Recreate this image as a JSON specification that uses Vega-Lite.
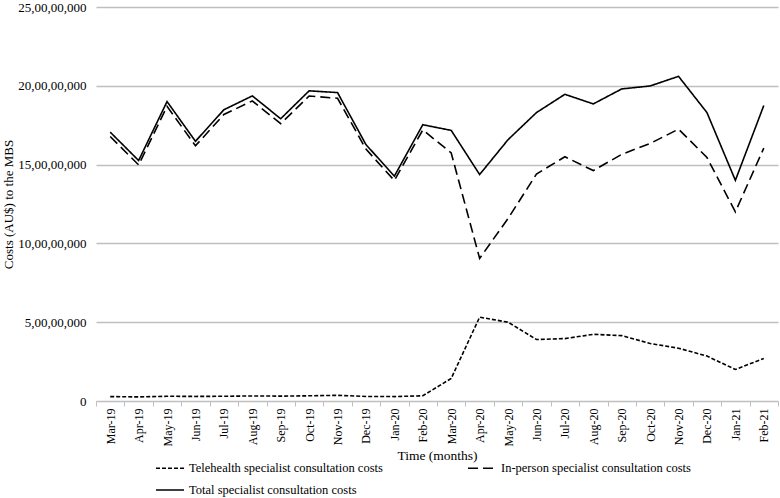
{
  "$schema": "https://vega.github.io/schema/vega-lite/v6.json",
  "width": 682,
  "height": 394,
  "autosize": {"type": "none"},
  "padding": {"left": 96, "top": 7, "right": 2, "bottom": 97},
  "background": "white",
  "config": {
    "font": "Liberation Serif",
    "view": {"stroke": null},
    "axis": {"labelColor": "black", "titleColor": "black", "titleFontWeight": "normal"}
  },
  "data": {
    "values": [
      {"month": "Mar-19", "series": "Telehealth specialist consultation costs", "cost": 2800000},
      {"month": "Apr-19", "series": "Telehealth specialist consultation costs", "cost": 2600000},
      {"month": "May-19", "series": "Telehealth specialist consultation costs", "cost": 3000000},
      {"month": "Jun-19", "series": "Telehealth specialist consultation costs", "cost": 2900000},
      {"month": "Jul-19", "series": "Telehealth specialist consultation costs", "cost": 3000000},
      {"month": "Aug-19", "series": "Telehealth specialist consultation costs", "cost": 3200000},
      {"month": "Sep-19", "series": "Telehealth specialist consultation costs", "cost": 3100000},
      {"month": "Oct-19", "series": "Telehealth specialist consultation costs", "cost": 3300000},
      {"month": "Nov-19", "series": "Telehealth specialist consultation costs", "cost": 3600000},
      {"month": "Dec-19", "series": "Telehealth specialist consultation costs", "cost": 2900000},
      {"month": "Jan-20", "series": "Telehealth specialist consultation costs", "cost": 2800000},
      {"month": "Feb-20", "series": "Telehealth specialist consultation costs", "cost": 3300000},
      {"month": "Mar-20", "series": "Telehealth specialist consultation costs", "cost": 14300000},
      {"month": "Apr-20", "series": "Telehealth specialist consultation costs", "cost": 53200000},
      {"month": "May-20", "series": "Telehealth specialist consultation costs", "cost": 50000000},
      {"month": "Jun-20", "series": "Telehealth specialist consultation costs", "cost": 39000000},
      {"month": "Jul-20", "series": "Telehealth specialist consultation costs", "cost": 39600000},
      {"month": "Aug-20", "series": "Telehealth specialist consultation costs", "cost": 42300000},
      {"month": "Sep-20", "series": "Telehealth specialist consultation costs", "cost": 41500000},
      {"month": "Oct-20", "series": "Telehealth specialist consultation costs", "cost": 36500000},
      {"month": "Nov-20", "series": "Telehealth specialist consultation costs", "cost": 33500000},
      {"month": "Dec-20", "series": "Telehealth specialist consultation costs", "cost": 28500000},
      {"month": "Jan-21", "series": "Telehealth specialist consultation costs", "cost": 20000000},
      {"month": "Feb-21", "series": "Telehealth specialist consultation costs", "cost": 27000000},
      {"month": "Mar-19", "series": "In-person specialist consultation costs", "cost": 167800000},
      {"month": "Apr-19", "series": "In-person specialist consultation costs", "cost": 149800000},
      {"month": "May-19", "series": "In-person specialist consultation costs", "cost": 187000000},
      {"month": "Jun-19", "series": "In-person specialist consultation costs", "cost": 161900000},
      {"month": "Jul-19", "series": "In-person specialist consultation costs", "cost": 181800000},
      {"month": "Aug-19", "series": "In-person specialist consultation costs", "cost": 190400000},
      {"month": "Sep-19", "series": "In-person specialist consultation costs", "cost": 176000000},
      {"month": "Oct-19", "series": "In-person specialist consultation costs", "cost": 193500000},
      {"month": "Nov-19", "series": "In-person specialist consultation costs", "cost": 192100000},
      {"month": "Dec-19", "series": "In-person specialist consultation costs", "cost": 159800000},
      {"month": "Jan-20", "series": "In-person specialist consultation costs", "cost": 139900000},
      {"month": "Feb-20", "series": "In-person specialist consultation costs", "cost": 172000000},
      {"month": "Mar-20", "series": "In-person specialist consultation costs", "cost": 157400000},
      {"month": "Apr-20", "series": "In-person specialist consultation costs", "cost": 90500000},
      {"month": "May-20", "series": "In-person specialist consultation costs", "cost": 115800000},
      {"month": "Jun-20", "series": "In-person specialist consultation costs", "cost": 144000000},
      {"month": "Jul-20", "series": "In-person specialist consultation costs", "cost": 155000000},
      {"month": "Aug-20", "series": "In-person specialist consultation costs", "cost": 146200000},
      {"month": "Sep-20", "series": "In-person specialist consultation costs", "cost": 156500000},
      {"month": "Oct-20", "series": "In-person specialist consultation costs", "cost": 163400000},
      {"month": "Nov-20", "series": "In-person specialist consultation costs", "cost": 172500000},
      {"month": "Dec-20", "series": "In-person specialist consultation costs", "cost": 154500000},
      {"month": "Jan-21", "series": "In-person specialist consultation costs", "cost": 120000000},
      {"month": "Feb-21", "series": "In-person specialist consultation costs", "cost": 160500000},
      {"month": "Mar-19", "series": "Total specialist consultation costs", "cost": 170600000},
      {"month": "Apr-19", "series": "Total specialist consultation costs", "cost": 152600000},
      {"month": "May-19", "series": "Total specialist consultation costs", "cost": 190000000},
      {"month": "Jun-19", "series": "Total specialist consultation costs", "cost": 164800000},
      {"month": "Jul-19", "series": "Total specialist consultation costs", "cost": 184800000},
      {"month": "Aug-19", "series": "Total specialist consultation costs", "cost": 193600000},
      {"month": "Sep-19", "series": "Total specialist consultation costs", "cost": 179100000},
      {"month": "Oct-19", "series": "Total specialist consultation costs", "cost": 196800000},
      {"month": "Nov-19", "series": "Total specialist consultation costs", "cost": 195700000},
      {"month": "Dec-19", "series": "Total specialist consultation costs", "cost": 162700000},
      {"month": "Jan-20", "series": "Total specialist consultation costs", "cost": 142700000},
      {"month": "Feb-20", "series": "Total specialist consultation costs", "cost": 175300000},
      {"month": "Mar-20", "series": "Total specialist consultation costs", "cost": 171700000},
      {"month": "Apr-20", "series": "Total specialist consultation costs", "cost": 143700000},
      {"month": "May-20", "series": "Total specialist consultation costs", "cost": 165800000},
      {"month": "Jun-20", "series": "Total specialist consultation costs", "cost": 183000000},
      {"month": "Jul-20", "series": "Total specialist consultation costs", "cost": 194600000},
      {"month": "Aug-20", "series": "Total specialist consultation costs", "cost": 188500000},
      {"month": "Sep-20", "series": "Total specialist consultation costs", "cost": 198000000},
      {"month": "Oct-20", "series": "Total specialist consultation costs", "cost": 199900000},
      {"month": "Nov-20", "series": "Total specialist consultation costs", "cost": 206000000},
      {"month": "Dec-20", "series": "Total specialist consultation costs", "cost": 183000000},
      {"month": "Jan-21", "series": "Total specialist consultation costs", "cost": 140000000},
      {"month": "Feb-21", "series": "Total specialist consultation costs", "cost": 187500000}
    ]
  },
  "mark": {"type": "line", "color": "black", "strokeWidth": 1.6},
  "encoding": {
    "x": {
      "field": "month",
      "type": "ordinal",
      "sort": null,
      "scale": {"type": "band", "paddingInner": 0, "paddingOuter": 0},
      "axis": {
        "title": "Time (months)",
        "labelAngle": -90,
        "tickBand": "extent",
        "grid": false,
        "domainColor": "#bfbfbf",
        "domainWidth": 1.2,
        "tickColor": "#bfbfbf",
        "tickSize": 5,
        "labelPadding": 2,
        "labelFontSize": 12,
        "titleFontSize": 13.5,
        "titlePadding": 3
      }
    },
    "y": {
      "field": "cost",
      "type": "quantitative",
      "scale": {"domain": [0, 250000000]},
      "axis": {
        "values": [0, 50000000, 100000000, 150000000, 200000000, 250000000],
        "labelExpr": "datum.value == 0 ? '0' : format(datum.value / 10000000, 'd') + ',00,00,000'",
        "title": "Costs (AU$) to the MBS",
        "domain": false,
        "ticks": false,
        "gridColor": "#bfbfbf",
        "gridWidth": 1.5,
        "labelPadding": 10,
        "labelFontSize": 13,
        "titleFontSize": 13,
        "titlePadding": 2
      }
    },
    "strokeDash": {
      "field": "series",
      "type": "nominal",
      "scale": {
        "domain": ["Telehealth specialist consultation costs", "In-person specialist consultation costs", "Total specialist consultation costs"],
        "range": [[4, 2], [10, 5], [1, 0]]
      },
      "legend": {
        "orient": "none",
        "legendX": 59,
        "legendY": 446,
        "direction": "horizontal",
        "columns": 2,
        "columnPadding": 81,
        "rowPadding": -5,
        "title": null,
        "symbolType": "stroke",
        "symbolSize": 784,
        "symbolStrokeWidth": 1.6,
        "symbolStrokeColor": "black",
        "labelFontSize": 12.5,
        "labelLimit": 400,
        "labelOffset": 4,
        "labelColor": "black"
      }
    }
  }
}
